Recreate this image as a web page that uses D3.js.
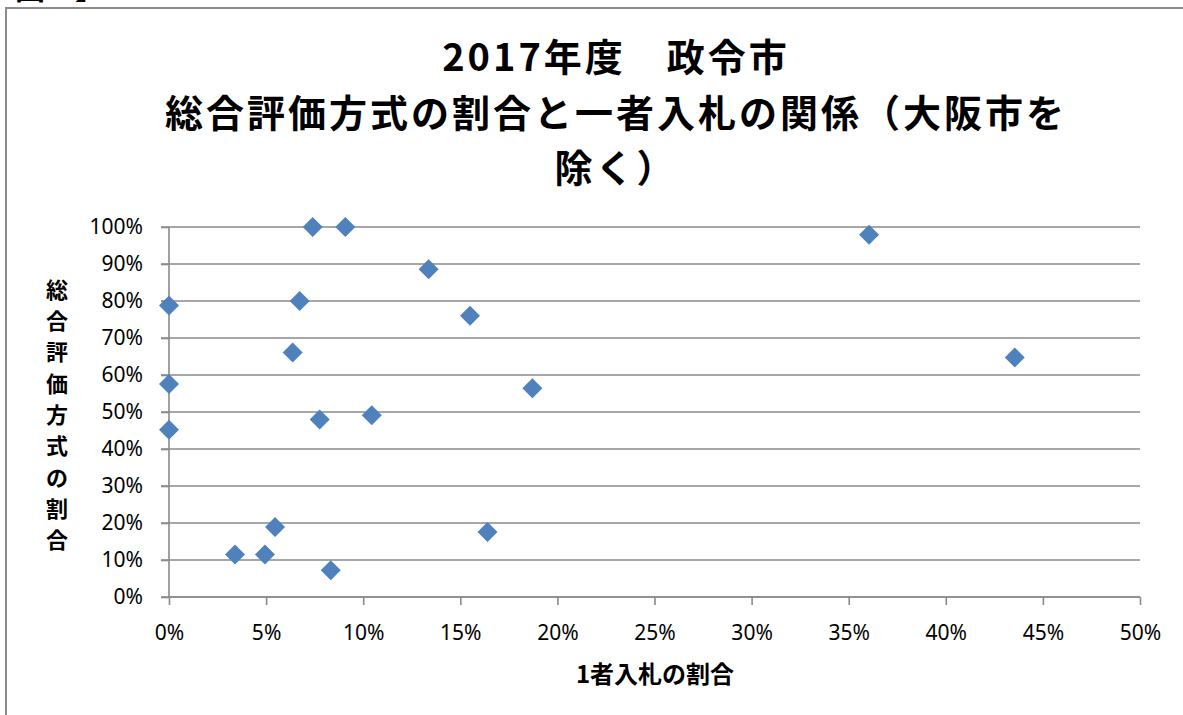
<!DOCTYPE html>
<html>
<head>
<meta charset="utf-8">
<script src="https://cdn.jsdelivr.net/npm/d3@7"></script>
<style>
  body { margin: 0; background: #fff; }
  svg { display: block; }
</style>
</head>
<body>
<svg id="chart" width="1183" height="715"></svg>
<script>
// 1者入札の割合 (x) / 総合評価方式の割合 (y), one point per city
const oneBidShare = [0, 0, 0, 0.034, 0.0494, 0.0546, 0.0833, 0.0637, 0.0673, 0.074, 0.0908,
  0.0776, 0.1044, 0.1337, 0.155, 0.1871, 0.164, 0.3605, 0.4355];
const evalShare = [0.788, 0.576, 0.452, 0.115, 0.115, 0.189, 0.072, 0.661, 0.80, 1.0, 1.0,
  0.48, 0.491, 0.886, 0.76, 0.564, 0.176, 0.979, 0.647];

const xTicks = [0, 0.05, 0.1, 0.15, 0.2, 0.25, 0.3, 0.35, 0.4, 0.45, 0.5];
const yTicks = [0, 0.1, 0.2, 0.3, 0.4, 0.5, 0.6, 0.7, 0.8, 0.9, 1.0];

const titleLines = ['2017年度\u3000政令市', '総合評価方式の割合と一者入札の関係（大阪市を', '除く）'];
const yTitle = '総合評価方式の割合';
const xTitle = '1者入札の割合';

const cfg = {
  left: 169, right: 1140, top: 227, bottom: 597,
  grid: '#8a8a8a',
  marker: '#4f81bd',
  tickFont: '"Noto Sans", "DejaVu Sans", sans-serif',
  cjkFont: '"Noto Sans CJK JP", sans-serif'
};

const svg = d3.select('svg#chart');

// outer frame (only the left and top edges show in the picture)
svg.append('path')
  .attr('d', 'M6,715V8H1183')
  .attr('fill', 'none')
  .attr('stroke', '#8c8c8c')
  .attr('stroke-width', 2);

// clipped caption from the page above the frame
svg.append('text')
  .attr('x', 15).attr('y', -1)
  .attr('font-family', cfg.cjkFont)
  .attr('font-weight', 'bold')
  .attr('font-size', 30)
  .text('図１】');

const x = d3.scaleLinear().domain([0, 0.5]).range([cfg.left, cfg.right]);
const y = d3.scaleLinear().domain([0, 1]).range([cfg.bottom, cfg.top]);

// horizontal gridlines
svg.append('g')
  .selectAll('line')
  .data(yTicks)
  .join('line')
  .attr('x1', cfg.left - 8)
  .attr('x2', cfg.right)
  .attr('y1', d => y(d))
  .attr('y2', d => y(d))
  .attr('stroke', cfg.grid)
  .attr('stroke-width', 1.6);

// y axis
const yAxis = svg.append('g')
  .attr('transform', `translate(${cfg.left},0)`)
  .call(d3.axisLeft(y).tickValues(yTicks).tickFormat(d3.format('.0%')).tickSize(8).tickPadding(18));

// x axis
const xAxis = svg.append('g')
  .attr('transform', `translate(0,${cfg.bottom})`)
  .call(d3.axisBottom(x).tickValues(xTicks).tickFormat(d3.format('.0%')).tickSize(8).tickPadding(20));

[yAxis, xAxis].forEach(g => {
  g.select('.domain').attr('stroke', cfg.grid).attr('stroke-width', 1.6);
  g.selectAll('.tick line').attr('stroke', cfg.grid).attr('stroke-width', 1.6);
  g.selectAll('.tick text')
    .attr('font-family', cfg.tickFont)
    .attr('font-size', 21)
    .attr('fill', '#000');
});
yAxis.select('.domain').attr('d', `M0,${y(1)}V${y(0)}`);
xAxis.select('.domain').attr('d', `M${x(0)},0H${x(0.5)}`);

// points as diamonds
const diamond = d3.symbol(d3.symbolSquare, 200);
svg.append('g')
  .selectAll('path')
  .data(d3.zip(oneBidShare, evalShare))
  .join('path')
  .attr('d', diamond)
  .attr('transform', d => `translate(${x(d[0])},${y(d[1])}) rotate(45)`)
  .attr('fill', cfg.marker);

// chart title
svg.append('g')
  .selectAll('text')
  .data(titleLines)
  .join('text')
  .attr('x', 616)
  .attr('y', (d, i) => 71 + i * 55.5)
  .attr('text-anchor', 'middle')
  .attr('font-family', cfg.cjkFont)
  .attr('font-weight', 'bold')
  .attr('font-size', 38)
  .attr('letter-spacing', 3)
  .text(d => d);

// vertical y-axis title, one character per row
svg.append('g')
  .selectAll('text')
  .data(Array.from(yTitle))
  .join('text')
  .attr('x', 57)
  .attr('y', (d, i) => 290 + i * 31.3)
  .attr('dy', '0.35em')
  .attr('text-anchor', 'middle')
  .attr('font-family', cfg.cjkFont)
  .attr('font-weight', 'bold')
  .attr('font-size', 22)
  .text(d => d);

// x-axis title
svg.append('text')
  .attr('x', 655)
  .attr('y', 683)
  .attr('text-anchor', 'middle')
  .attr('font-family', cfg.cjkFont)
  .attr('font-weight', 'bold')
  .attr('font-size', 24)
  .text(xTitle);
</script>
</body>
</html>
